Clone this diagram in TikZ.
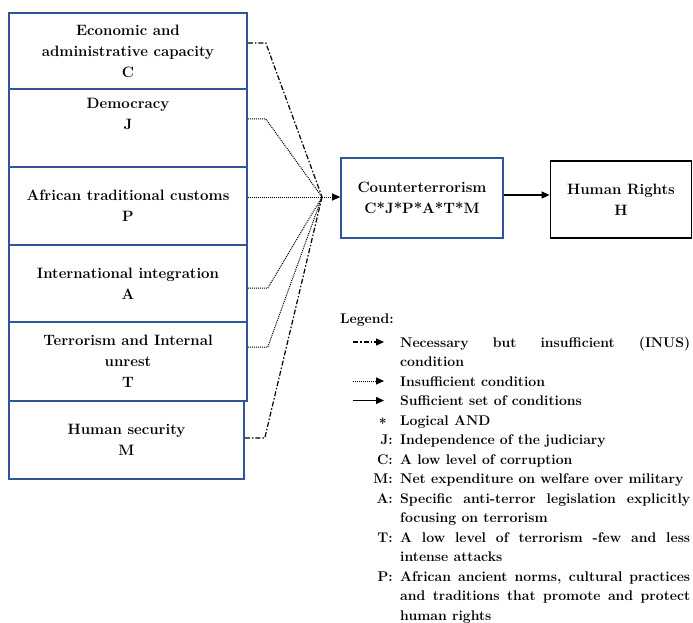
\documentclass[tikz,border=0pt]{standalone}
\usepackage{fontspec}
\usetikzlibrary{arrows.meta}
\definecolor{boxblue}{RGB}{47,85,151}
\tikzset{
  factor/.style={draw=boxblue, line width=1.6pt, minimum width=238pt, align=center, inner sep=2pt,
    font=\bfseries\fontsize{15}{21}\selectfont},
  result/.style={factor, minimum width=162pt, minimum height=80pt},
  outcome/.style={factor, draw=black, line width=1.8pt, minimum width=141pt, minimum height=77pt},
  tip/.style={-{Triangle[length=8pt,width=7pt]}},
  inus/.style={line width=1.2pt, dash pattern=on 5pt off 2pt on 1.5pt off 2pt},
  insuf/.style={line width=1pt, dash pattern=on 1pt off 1pt},
  suff/.style={line width=1.4pt},
  legkey/.style={inner sep=0pt, font=\bfseries\fontsize{14}{19.5}\selectfont},
  legtext/.style={legkey, anchor=base west, text width=290pt, align=justify,
    execute at begin node={\hyphenpenalty=10000\exhyphenpenalty=10000}},
}
\begin{document}
\begin{tikzpicture}[x=1pt,y=-1pt]
\useasboundingbox (0,0) rectangle (693,623);

% conditions
\node[factor, minimum height=76pt] (econ) at (128,51) {Economic and\\administrative capacity\\C};
\node[factor, minimum height=78pt] (demo) at (128,128) {Democracy\\J\\\strut};
\node[factor, minimum height=78pt] (trad) at (128,206) {African traditional customs\\P};
\node[factor, minimum height=77pt] (intl) at (128,283.5) {International integration\\A};
\node[factor, minimum height=79pt] (terr) at (128,361.5) {Terrorism and Internal\\unrest\\T};
\node[factor, minimum height=78pt, minimum width=235pt] (hsec) at (126.5,440) {Human security\\M};

\coordinate (join) at (322,197);
\node[result] (ct) at (422,198) {Counterterrorism\\C*J*P*A*T*M};
\node[outcome] (hr) at (621,199.5) {Human Rights\\H};

% connectors
\draw[inus] (econ.east |- 0,43) -- ++(18,0) -- (join);
\draw[insuf] (demo.east |- 0,119) -- ++(18,0) -- (join);
\draw[insuf] (trad.east |- join) -- (join);
\draw[insuf] (intl.east |- 0,288) -- ++(20,0) -- (join);
\draw[insuf] (terr.east |- 0,347) -- ++(20,0) -- (join);
\draw[inus] (hsec.east |- 0,438) -- ++(20,0) -- (join);
\draw[insuf, tip] (join) -- (ct.west |- join);
\draw[suff, tip] (ct.east |- 0,195) -- (hr.west |- 0,195);

% legend
\node[legkey, anchor=base west] (leghead) at (340,323) {Legend:};
\coordinate (kinus) at (353,342);
\draw[inus, tip] (kinus) -- ++(31,0);
\node[legtext] (tinus) at (400,347) {Necessary but insufficient (INUS)\linebreak condition};
\coordinate (kinsuf) at (353,381);
\draw[insuf, tip] (kinsuf) -- ++(31,0);
\node[legtext] (tinsuf) at (400,386) {Insufficient condition};
\coordinate (ksuff) at (353,400.5);
\draw[suff, tip] (ksuff) -- ++(31,0);
\node[legtext] (tsuff) at (400,405.5) {Sufficient set of conditions};
\node[legkey, anchor=base east] (kand) at (387,428) {*};
\node[legtext] (tand) at (400,425) {Logical AND};
\node[legkey, anchor=base east] (kj) at (393,444.5) {J:};
\node[legtext] (tj) at (400,444.5) {Independence of the judiciary};
\node[legkey, anchor=base east] (kc) at (393,464) {C:};
\node[legtext] (tc) at (400,464) {A low level of corruption};
\node[legkey, anchor=base east] (km) at (393,483.5) {M:};
\node[legtext] (tm) at (400,483.5) {Net expenditure on welfare over military};
\node[legkey, anchor=base east] (ka) at (393,503) {A:};
\node[legtext] (ta) at (400,503) {Specific anti-terror legislation explicitly\linebreak focusing on terrorism};
\node[legkey, anchor=base east] (kt) at (393,542) {T:};
\node[legtext] (tt) at (400,542) {A low level of terrorism -few and less\linebreak intense attacks};
\node[legkey, anchor=base east] (kp) at (393,581) {P:};
\node[legtext] (tp) at (400,581) {African ancient norms, cultural practices\linebreak and traditions that promote and protect\linebreak human rights};
\end{tikzpicture}
\end{document}
